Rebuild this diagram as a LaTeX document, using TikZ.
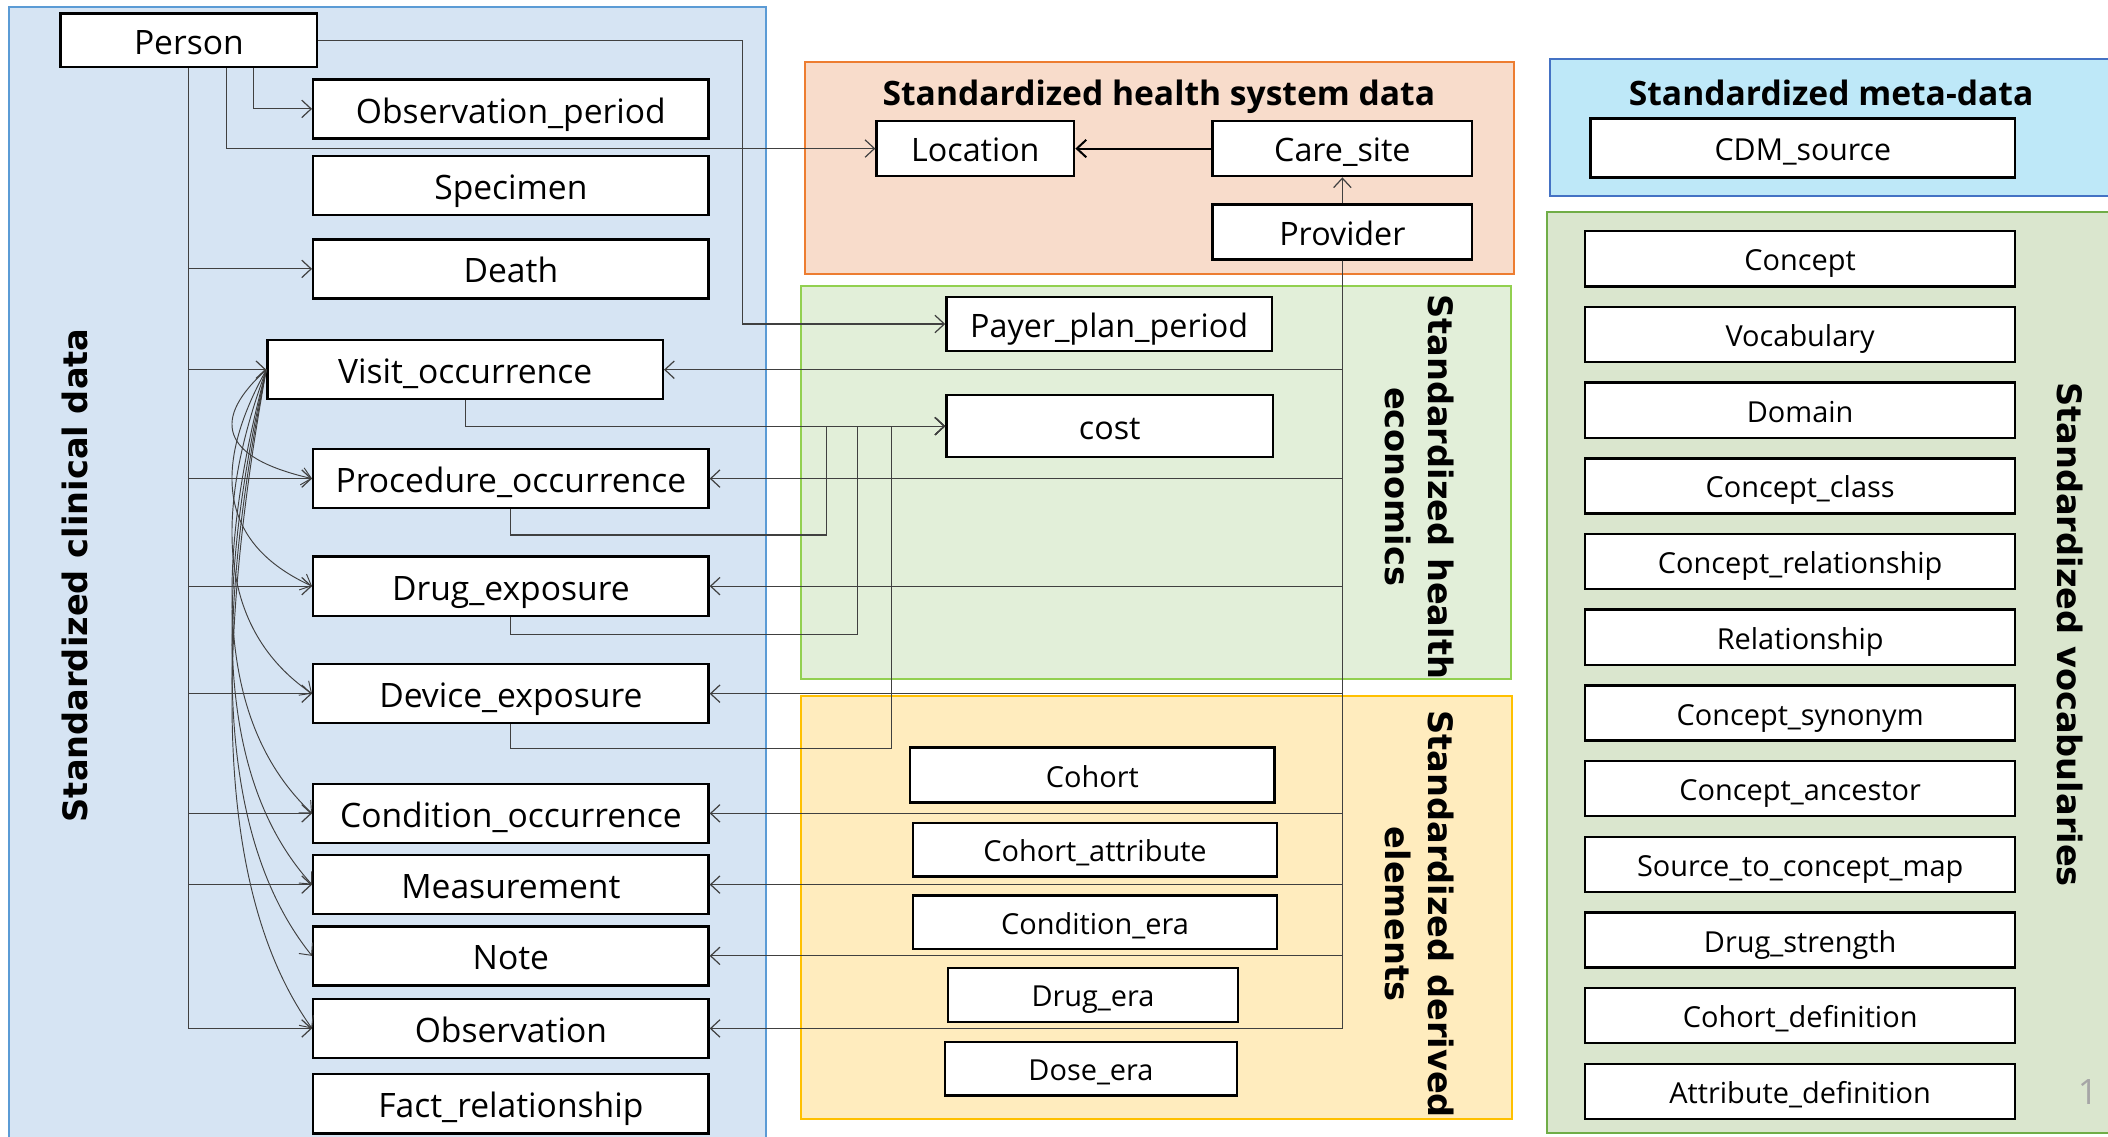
\documentclass[tikz,border=0pt]{standalone}
\usepackage{fontspec}
\setmainfont{Open Sans}
\newfontfamily\headfont{DejaVu Sans}
\usepackage{tikz}
\usetikzlibrary{positioning, arrows.meta, calc}

\definecolor{clinfill}{HTML}{D6E4F3}
\definecolor{clinline}{HTML}{5B9BD5}
\definecolor{hsfill}{HTML}{F8DCCB}
\definecolor{hsline}{HTML}{ED7D31}
\definecolor{econfill}{HTML}{E2EFD9}
\definecolor{econline}{HTML}{92D050}
\definecolor{derfill}{HTML}{FFECBE}
\definecolor{derline}{HTML}{FFC000}
\definecolor{metafill}{HTML}{BEE8F8}
\definecolor{metaline}{HTML}{4472C4}
\definecolor{vocfill}{HTML}{DAE6CE}
\definecolor{vocline}{HTML}{70AD47}

\begin{document}
\begin{tikzpicture}[x=1pt, y=1pt, >={Straight Barb[length=7pt,width=13pt]},
    tbl/.style={draw, line width=1.8pt, fill=white, inner sep=0pt, minimum height=44pt,
      text height=21pt, text depth=0pt, font=\fontsize{25}{30}\selectfont},
    mid tbl/.style={tbl, minimum height=41pt, text height=20pt, font=\fontsize{24}{28}\selectfont},
    small tbl/.style={tbl, minimum height=41pt, text height=18pt, font=\fontsize{21.5}{26}\selectfont},
    link/.style={->, draw=black!75, line width=0.9pt},
    panel/.style={line width=1.5pt},
    side title/.style={font=\headfont\bfseries\fontsize{25}{32}\selectfont, align=center},
    box title/.style={font=\bfseries\fontsize{25}{28}\selectfont}]

  \useasboundingbox (0,0) rectangle (1568,-845);
  \clip (0,0) rectangle (1568,-845);

  % panels
  \draw[panel, draw=clinline, fill=clinfill] (7,-5) rectangle (570,-870);
  \draw[panel, draw=hsline, fill=hsfill] (599,-46) rectangle (1126,-204);
  \draw[panel, draw=econline, fill=econfill] (596,-213) rectangle (1124,-505);
  \draw[panel, draw=derline, fill=derfill] (596,-518) rectangle (1125,-832);
  \draw[panel, draw=metaline, fill=metafill] (1153,-44) rectangle (1590,-146);
  \draw[panel, draw=vocline, fill=vocfill] (1151,-158) rectangle (1590,-843);

  \node[side title, rotate=90] (clintitle) at (56,-428) {Standardized clinical data};
  \node[side title, rotate=-90] (econtitle) at (1056,-362) {Standardized health\\economics};
  \node[side title, rotate=-90] (dertitle) at (1056,-680) {Standardized derived\\elements};
  \node[side title, rotate=-90] (voctitle) at (1540,-472) {Standardized vocabularies};
  \node[box title] (hstitle) at (862,-72) {Standardized health system data};
  \node[box title] (metatitle) at (1362,-69) {Standardized meta-data};

  % clinical data
  \node[tbl, minimum width=191pt, minimum height=40pt] (person) at (140.5,-30) {Person};
  \node[tbl, minimum width=294pt] (visit) at (346,-275) {Visit\_occurrence};
  \foreach \n/\y/\txt in {obsperiod/81/Observation\_period, specimen/138/Specimen,
      death/200/Death, proc/356/Procedure\_occurrence, drugexp/436/Drug\_exposure,
      device/516/Device\_exposure, cond/605/Condition\_occurrence,
      meas/658/Measurement, note/711/Note, obs/765/Observation,
      factrel/821/Fact\_relationship}
    \node[tbl, minimum width=294pt] (\n) at (380,-\y) {\txt};

  % health system data
  \node[mid tbl, minimum width=147pt] (location) at (725.5,-110.5) {Location};
  \node[mid tbl, minimum width=193pt] (care) at (998.5,-110.5) {Care\_site};
  \node[mid tbl, minimum width=193pt] (provider) at (998.5,-172.5) {Provider};

  % health economics
  \node[mid tbl, minimum width=242pt, minimum height=40pt] (payer) at (825,-241) {Payer\_plan\_period};
  \node[mid tbl, minimum width=243pt, minimum height=46pt] (cost) at (825.5,-317) {cost};

  % derived elements
  \node[small tbl, minimum width=271pt] (cohort) at (812.5,-576.5) {Cohort};
  \node[small tbl, minimum width=271pt, minimum height=40pt] (cohortattr) at (814.5,-632) {Cohort\_attribute};
  \node[small tbl, minimum width=271pt, minimum height=40pt] (condera) at (814.5,-686) {Condition\_era};
  \node[small tbl, minimum width=216pt, minimum height=40pt] (drugera) at (813,-740) {Drug\_era};
  \node[small tbl, minimum width=217pt, minimum height=40pt] (doseera) at (811.5,-795) {Dose\_era};

  % meta-data and vocabularies
  \node[tbl, minimum width=316pt, text height=19pt, font=\fontsize{22.5}{27}\selectfont] (cdmsource) at (1341,-110) {CDM\_source};
  \foreach \t [count=\i from 0] in {Concept, Vocabulary, Domain, Concept\_class,
      Concept\_relationship, Relationship, Concept\_synonym, Concept\_ancestor,
      Source\_to\_concept\_map, Drug\_strength, Cohort\_definition, Attribute\_definition}
    \node[small tbl, minimum width=320pt] (voc\i) at (1339,{-192.5-56.3*\i}) {\t};

  \node[text=black!35, font=\fontsize{26}{30}\selectfont] (pagenum) at (1553,-812) {1};

  % connectors from person
  \foreach \t in {death, visit, proc, drugexp, device, cond, meas, obs}
    \draw[link] (person.south) |- (\t.west);
  \draw[link] ([xshift=28pt]person.south) |- (location.west);
  \draw[link] ([xshift=48pt]person.south) |- (obsperiod.west);
  \coordinate (payturn) at (552,-241);
  \draw[link] (person.east) -| (payturn) -- (payer.west);

  % connectors from visit
  \foreach \t/\d/\e in {proc/36/16, drugexp/72/32, device/108/48, cond/149/66,
      meas/172/77, note/196/87, obs/220/98}
    \draw[link, line width=0.7pt] (visit.west) .. controls +(-40,-\d) and +(-70,\e) .. (\t.west);

  % connectors to cost
  \coordinate (costA) at (615,-398);
  \coordinate (costB) at (638,-472);
  \coordinate (costC) at (663,-557);
  \draw[link] (visit.south) |- (cost.west);
  \draw[link] (proc.south) |- (costA) |- (cost.west);
  \draw[link] (drugexp.south) |- (costB) |- (cost.west);
  \draw[link] (device.south) |- (costC) |- (cost.west);

  % connectors from provider
  \foreach \t in {visit, proc, drugexp, device, cond, meas, note, obs}
    \draw[link] (provider.south) |- (\t.east);
  \draw[link] (provider.north) -- (care.south);
  \draw[->, line width=1.5pt] (care.west) -- (location.east);
\end{tikzpicture}
\end{document}
